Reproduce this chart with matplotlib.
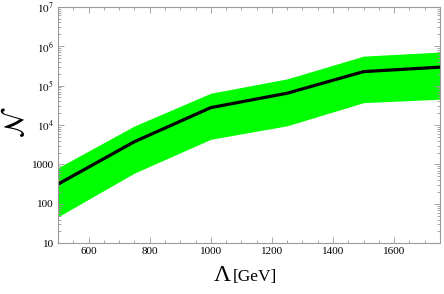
import matplotlib
matplotlib.use("Agg")
import matplotlib.pyplot as plt
from matplotlib.ticker import MultipleLocator, LogLocator, FuncFormatter, NullFormatter
import numpy as np

plt.rcParams['font.family'] = ['Liberation Serif', 'DejaVu Serif']
plt.rcParams['mathtext.fontset'] = 'stix'

lam = [500, 750, 1000, 1250, 1500, 1750]
n_central = [316, 3770, 27600, 64000, 226000, 293000]
n_upper = [822, 9450, 64000, 148000, 558000, 708000]
n_lower = [47, 603, 4340, 9550, 36900, 45000]

fig = plt.figure(figsize=(4.44, 2.94), dpi=100)
ax = fig.add_axes([58/444, 1-243.3/294, (440-58)/444, (243.3-6.7)/294])

ax.fill_between(lam, n_lower, n_upper, color='#00ff00', linewidth=0, zorder=1)
ax.plot(lam, n_central, color='black', lw=2.3, zorder=2, solid_joinstyle='miter')

ax.set_yscale('log')
ax.set_xlim(500, 1750)
ax.set_ylim(10, 1e7)

ax.xaxis.set_major_locator(MultipleLocator(200))
ax.xaxis.set_minor_locator(MultipleLocator(50))
ax.yaxis.set_major_locator(LogLocator(base=10, numticks=20))
ax.yaxis.set_minor_locator(LogLocator(base=10, subs=np.arange(2, 10), numticks=20))
ax.yaxis.set_minor_formatter(NullFormatter())

def yfmt(v, pos):
    e = int(round(np.log10(v)))
    if e <= 3:
        return str(int(round(v)))
    return r'$10^{%d}$' % e

ax.yaxis.set_major_formatter(FuncFormatter(yfmt))
ax.xaxis.set_major_formatter(FuncFormatter(lambda v, p: '%d' % v))

frame_col = '#999999'
for s in ax.spines.values():
    s.set_color(frame_col)
    s.set_linewidth(0.8)
ax.tick_params(which='both', direction='in', top=True, right=True, colors=frame_col,
               labelcolor='black', labelsize=8, width=0.6)
ax.tick_params(which='major', length=4, pad=3)
ax.tick_params(which='minor', length=2)

fig.text(3/444, 1-122/294, r'$\mathcal{N}$', rotation=90, fontsize=20,
         ha='left', va='center')
fig.text(231/444, 1-281/294, 'Λ', fontsize=17, ha='right', va='baseline')
fig.text(233/444, 1-281/294, '[GeV]', fontsize=12.5, ha='left', va='baseline')

fig.savefig('out.png', dpi=100)
